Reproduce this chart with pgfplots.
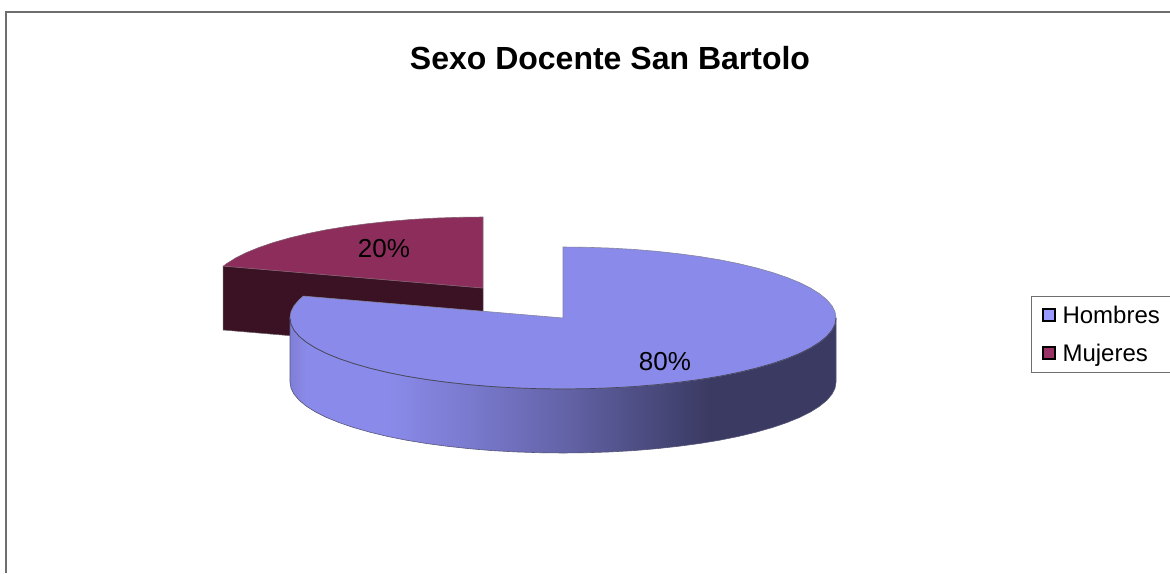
\documentclass[border=0pt]{standalone}
\usepackage{pgfplots}
\pgfplotsset{compat=1.18}
\usepackage{fontspec}
\setmainfont{Liberation Sans}
\definecolor{bluetop}{HTML}{8A8AEA}
\definecolor{maroontop}{HTML}{8C2D5C}
\definecolor{maroonwall}{HTML}{3A1224}
\definecolor{frameline}{HTML}{6E6E6E}
\definecolor{rim}{HTML}{55557A}
\definecolor{bluekey}{HTML}{9999FF}
\definecolor{maroonkey}{HTML}{993366}
\pgfdeclarehorizontalshading{sidewall}{100bp}{
  color(0bp)=(bluetop!92!black);
  color(25bp)=(bluetop!92!black);
  color(26.5bp)=(bluetop);
  color(34bp)=(bluetop);
  color(41.5bp)=(bluetop!88!black);
  color(50bp)=(bluetop!72!black);
  color(57.5bp)=(bluetop!55!black);
  color(63.5bp)=(bluetop!42!black);
  color(75bp)=(bluetop!42!black);
  color(100bp)=(bluetop!42!black)}
\begin{document}
\begin{tikzpicture}[x=1pt,y=1pt]
\useasboundingbox (0,0) rectangle (1170,573);
\begin{axis}[
  at={(0,0)}, anchor=south west,
  width=1170pt, height=573pt, scale only axis,
  xmin=0, xmax=1170, ymin=0, ymax=573, y dir=reverse,
  hide axis, clip=true,
  legend style={at={(axis cs:1031,296)}, anchor=north west,
    draw=frameline, line width=1pt, fill=white,
    inner xsep=10pt, inner ysep=7.5pt,
    font=\fontsize{24}{28}\selectfont,
    row sep=15pt, /tikz/every odd column/.append style={column sep=5pt}},
  legend cell align=left,
]
% chart frame
\addplot[forget plot, draw=frameline, line width=1.4pt] coordinates {(6,573) (6,12) (1170,12)};
% Mujeres slice (exploded)
\addplot[forget plot, fill=maroonwall, draw=gray!70!maroonwall, line width=0.5pt] coordinates {
 (223,266) (483,288) (483,352) (223,330)} --cycle;
\addplot[forget plot, fill=maroontop, draw=gray!60!maroontop, line width=0.6pt] coordinates {
 (483,288) (483,217) (459.2,217.3) (435.6,218.1) (412.3,219.4) (389.6,221.3) (367.6,223.7)
 (346.5,226.5) (326.4,229.8) (307.5,233.6) (290,237.8) (273.9,242.4) (259.4,247.3)
 (246.6,252.5) (235.6,258) (226.5,263.7) (223.4,266.1)} --cycle;
% Hombres slice: side wall
\addplot[forget plot, shade, shading=sidewall, draw=rim, line width=0.6pt] coordinates {
 (836,318) (835,324.2) (831.9,330.3) (826.7,336.4) (819.5,342.3) (810.4,348) (799.4,353.5)
 (786.6,358.7) (772.1,363.6) (756,368.2) (738.5,372.4) (719.6,376.2) (699.5,379.5) (678.4,382.3)
 (656.4,384.7) (633.7,386.6) (610.4,387.9) (586.8,388.7) (563,389) (539.2,388.7) (515.6,387.9)
 (492.3,386.6) (469.6,384.7) (447.6,382.3) (426.5,379.5) (406.4,376.2) (387.5,372.4) (370,368.2)
 (353.9,363.6) (339.4,358.7) (326.6,353.5) (315.6,348) (306.5,342.3) (299.3,336.4) (294.1,330.3)
 (291,324.2) (290,318)
 (290,382) (291,388.2) (294.1,394.3) (299.3,400.4) (306.5,406.3) (315.6,412) (326.6,417.5)
 (339.4,422.7) (353.9,427.6) (370,432.2) (387.5,436.4) (406.4,440.2) (426.5,443.5) (447.6,446.3)
 (469.6,448.7) (492.3,450.6) (515.6,451.9) (539.2,452.7) (563,453) (586.8,452.7) (610.4,451.9)
 (633.7,450.6) (656.4,448.7) (678.4,446.3) (699.5,443.5) (719.6,440.2) (738.5,436.4) (756,432.2)
 (772.1,427.6) (786.6,422.7) (799.4,417.5) (810.4,412) (819.5,406.3) (826.7,400.4) (831.9,394.3)
 (835,388.2) (836,382)} --cycle;
% Hombres slice: top face
\addplot[forget plot, fill=bluetop, draw=gray!70!bluetop, line width=0.6pt] coordinates {
 (563,318) (563,247) (586.8,247.3) (610.4,248.1) (633.7,249.4) (656.4,251.3) (678.4,253.7)
 (699.5,256.5) (719.6,259.8) (738.5,263.6) (756,267.8) (772.1,272.4) (786.6,277.3) (799.4,282.5)
 (810.4,288) (819.5,293.7) (826.7,299.6) (831.9,305.7) (835,311.8) (836,318)
 (835,324.2) (831.9,330.3) (826.7,336.4) (819.5,342.3) (810.4,348) (799.4,353.5)
 (786.6,358.7) (772.1,363.6) (756,368.2) (738.5,372.4) (719.6,376.2) (699.5,379.5) (678.4,382.3)
 (656.4,384.7) (633.7,386.6) (610.4,387.9) (586.8,388.7) (563,389) (539.2,388.7) (515.6,387.9)
 (492.3,386.6) (469.6,384.7) (447.6,382.3) (426.5,379.5) (406.4,376.2) (387.5,372.4) (370,368.2)
 (353.9,363.6) (339.4,358.7) (326.6,353.5) (315.6,348) (306.5,342.3) (299.3,336.4) (294.1,330.3)
 (291,324.2) (290,318) (291,311.8) (294.1,305.7) (299.3,299.6) (303.4,296.1)} --cycle;
% rim line between top face and wall
\addplot[forget plot, draw=rim!80!black, line width=0.7pt] coordinates {
 (836,318) (835,324.2) (831.9,330.3) (826.7,336.4) (819.5,342.3) (810.4,348) (799.4,353.5)
 (786.6,358.7) (772.1,363.6) (756,368.2) (738.5,372.4) (719.6,376.2) (699.5,379.5) (678.4,382.3)
 (656.4,384.7) (633.7,386.6) (610.4,387.9) (586.8,388.7) (563,389) (539.2,388.7) (515.6,387.9)
 (492.3,386.6) (469.6,384.7) (447.6,382.3) (426.5,379.5) (406.4,376.2) (387.5,372.4) (370,368.2)
 (353.9,363.6) (339.4,358.7) (326.6,353.5) (315.6,348) (306.5,342.3) (299.3,336.4) (294.1,330.3)
 (291,324.2) (290,318)};
% legend
\addlegendimage{legend image code/.code={
  \draw[black, line width=2pt, fill=bluekey] (0pt,-6pt) rectangle (12pt,6pt);}}
\addlegendentry{Hombres}
\addlegendimage{legend image code/.code={
  \draw[black, line width=2pt, fill=maroonkey] (0pt,-6pt) rectangle (12pt,6pt);}}
\addlegendentry{Mujeres}
% texts
\node[font=\fontsize{32}{36}\selectfont\bfseries, anchor=center] at (axis cs:610,58) {Sexo Docente San Bartolo};
\node[font=\fontsize{26}{30}\selectfont, anchor=center] at (axis cs:384,249) {20\%};
\node[font=\fontsize{26}{30}\selectfont, anchor=center] at (axis cs:665,362) {80\%};
\end{axis}
\end{tikzpicture}
\end{document}
